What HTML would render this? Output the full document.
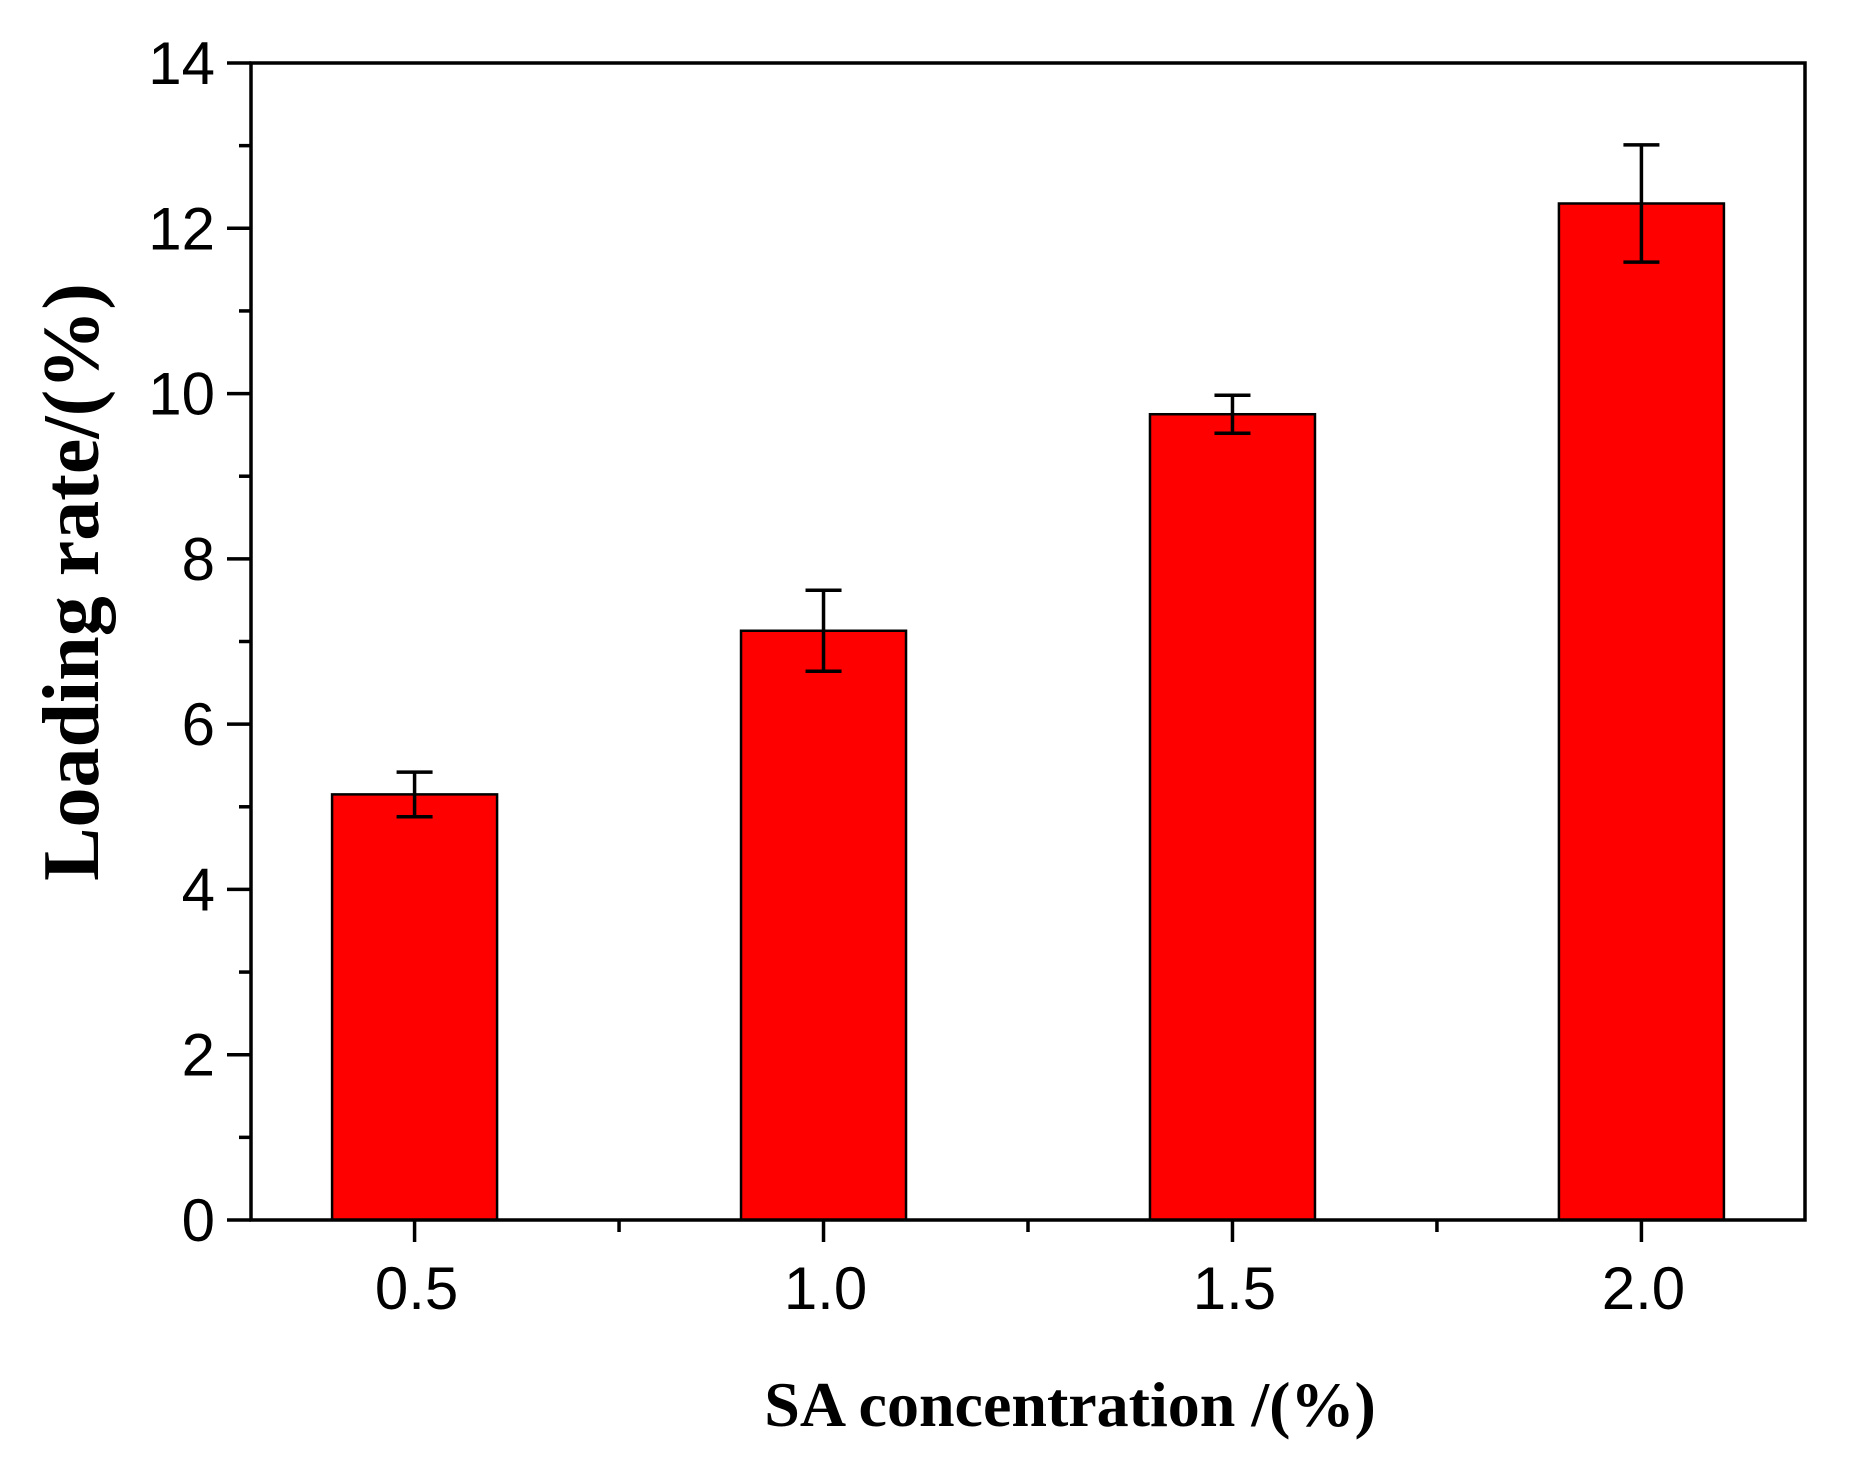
<!DOCTYPE html>
<html><head><meta charset="utf-8"><style>html,body{margin:0;padding:0;background:#fff}svg{display:block}</style></head>
<body>
<svg id="chart" width="1855" height="1467" xmlns="http://www.w3.org/2000/svg"></svg>
<script>
const categories = ["0.5","1.0","1.5","2.0"];
const xValues = [0.5,1.0,1.5,2.0];
const loadingRate = [5.15,7.13,9.75,12.3];
const errors = [0.27,0.49,0.23,0.71];
const yTicks = [0,2,4,6,8,10,12,14];
const yMinor = [1,3,5,7,9,11,13];
const xMinor = [0.75,1.25,1.75];

const L=251,R=1805,T=63,B=1220;
const xMin=0.3,xMax=2.2,yMin=0,yMax=14;
const sx=v=>L+(v-xMin)/(xMax-xMin)*(R-L);
const sy=v=>B-(v-yMin)/(yMax-yMin)*(B-T);
const barW=165;
const svg=document.getElementById('chart');
const NS='http://www.w3.org/2000/svg';
function mk(tag,attrs,parent){const e=document.createElementNS(NS,tag);for(const k in attrs)e.setAttribute(k,attrs[k]);(parent||svg).appendChild(e);return e;}

loadingRate.forEach((v,i)=>{
  const cx=sx(xValues[i]);
  const b=mk('rect',{x:cx-barW/2,y:sy(v),width:barW,height:B-sy(v),fill:'#ff0000',stroke:'#000','stroke-width':2.5});
  
  
  const g=mk('g',{stroke:'#000','stroke-width':3.5});
  
  
  const hi=sy(v+errors[i]),lo=sy(v-errors[i]);
  mk('line',{x1:cx,x2:cx,y1:hi,y2:lo},g);
  mk('line',{x1:cx-18,x2:cx+18,y1:hi,y2:hi},g);
  mk('line',{x1:cx-18,x2:cx+18,y1:lo,y2:lo},g);
});

const frame=mk('rect',{x:L,y:T,width:R-L,height:B-T,fill:'none',stroke:'#000','stroke-width':3.5});



yTicks.forEach(t=>{
  const y=sy(t);
  mk('line',{x1:L-24,x2:L,y1:y,y2:y,stroke:'#000','stroke-width':3.5});
  const tx=mk('text',{x:L-36,y:y+21,'text-anchor':'end','font-family':'Liberation Sans, sans-serif','font-size':60,fill:'#000'});
  tx.textContent=t;
  
  
});
yMinor.forEach(t=>{const y=sy(t);mk('line',{x1:L-12,x2:L,y1:y,y2:y,stroke:'#000','stroke-width':3.5});});
xValues.forEach((v,i)=>{
  const x=sx(v);
  mk('line',{x1:x,x2:x,y1:B,y2:B+22,stroke:'#000','stroke-width':3.5});
  const tx=mk('text',{x:x+2,y:1309,'text-anchor':'middle','font-family':'Liberation Sans, sans-serif','font-size':60,fill:'#000'});
  tx.textContent=categories[i];
  
  
});
xMinor.forEach(v=>{const x=sx(v);mk('line',{x1:x,x2:x,y1:B,y2:B+12,stroke:'#000','stroke-width':3.5});});

const xt=mk('text',{x:1070,y:1426,'text-anchor':'middle','font-family':'Liberation Serif, serif','font-weight':'bold','font-size':64,fill:'#000'});
xt.textContent='SA concentration /(%)';


const yt=mk('text',{x:0,y:0,'text-anchor':'middle','font-family':'Liberation Serif, serif','font-weight':'bold','font-size':80,fill:'#000',transform:'translate(98,582) rotate(-90)'});
yt.textContent='Loading rate/(%)';


</script>
</body></html>
